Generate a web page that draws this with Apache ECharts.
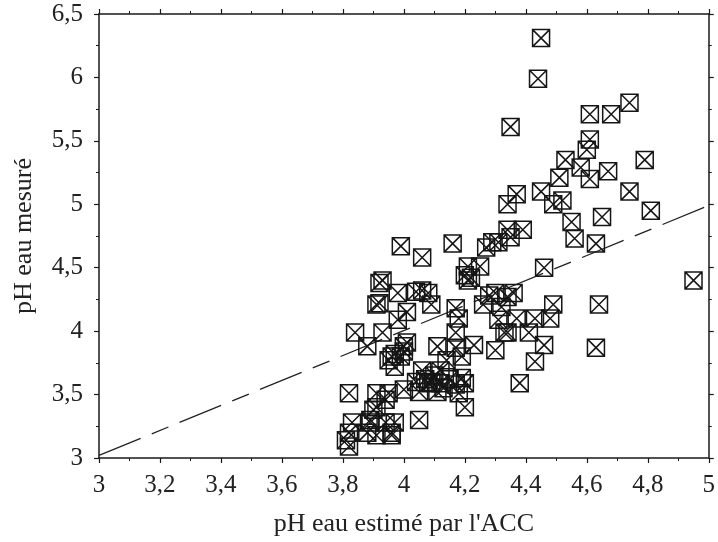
<!DOCTYPE html>
<html>
<head>
<meta charset="utf-8">
<script src="https://cdn.jsdelivr.net/npm/echarts@6/dist/echarts.min.js"></script>
<style>
  html, body { margin: 0; padding: 0; background: #fff; }
  #chart { width: 718px; height: 542px; }
</style>
</head>
<body>
<div id="chart"></div>
<script>
// pH estimé (ACC) / pH mesuré
let phEstime = [
  4.45, 4.44, 4.35, 4.61, 4.68, 4.74, 4.61, 4.60, 4.53, 4.58, 4.67, 4.79, 4.51, 4.61, 4.37, 4.45, 4.34,
  4.49, 4.52, 4.74, 4.55, 4.65, 4.81, 4.34, 4.39, 4.56, 4.63, 4.35, 4.31, 4.29, 4.27, 4.46, 4.95,
  3.99, 4.06, 4.16, 4.21, 4.25, 4.20, 4.22, 4.21,
  3.93, 3.92, 3.98, 4.04, 4.08, 4.06, 3.91, 3.92, 4.09, 4.01, 3.98,
  4.28, 4.30, 4.34, 4.36, 4.26, 4.17, 4.18, 4.17, 4.32, 4.31, 4.37, 4.43, 4.48, 4.49, 4.64, 4.33, 4.34, 4.41,
  4.23, 4.30, 4.46, 4.63, 4.43, 4.38, 4.17,
  3.84, 3.93, 3.88, 4.00, 4.01, 4.11,
  3.96, 3.99, 3.97, 3.95, 4.00, 4.14, 4.19, 3.97, 4.06, 4.12, 4.08, 4.12, 4.20, 4.07, 4.09, 4.10, 4.15,
  4.17, 4.19, 4.13, 4.04,
  4.05, 4.11, 4.18, 4.20, 3.82, 3.91, 3.95, 4.00, 3.94, 3.90, 3.91, 3.89, 3.94, 3.97, 4.05, 3.83, 3.89,
  3.82, 3.88, 3.91, 3.96, 3.96, 3.82, 3.81
]
let phMesure = [
  6.31, 5.99, 5.61, 5.71, 5.71, 5.80, 5.51, 5.43, 5.35, 5.29, 5.26, 5.35, 5.21, 5.20, 5.08, 5.10, 5.00,
  5.00, 5.03, 5.10, 4.86, 4.90, 4.95, 4.80, 4.80, 4.73, 4.69, 4.74, 4.70, 4.70, 4.66, 4.50, 4.40,
  4.67, 4.58, 4.69, 4.51, 4.51, 4.44, 4.42, 4.40,
  4.40, 4.38, 4.30, 4.31, 4.30, 4.32, 4.21, 4.22, 4.21, 4.15, 4.09,
  4.28, 4.30, 4.27, 4.30, 4.21, 4.18, 4.10, 3.99, 4.19, 4.09, 4.10, 4.10, 4.10, 4.21, 4.21, 3.99, 3.99, 3.99,
  3.89, 3.85, 3.89, 3.87, 3.76, 3.59, 3.87,
  3.99, 3.99, 3.88, 3.88, 3.91, 3.88,
  3.80, 3.80, 3.82, 3.77, 3.84, 3.77, 3.80, 3.72, 3.69, 3.69, 3.59, 3.59, 3.59, 3.62, 3.60, 3.65, 3.62,
  3.58, 3.63, 3.55, 3.60,
  3.52, 3.52, 3.51, 3.40, 3.51, 3.51, 3.51, 3.54, 3.46, 3.38, 3.40, 3.30, 3.28, 3.28, 3.30, 3.28, 3.28,
  3.20, 3.20, 3.18, 3.20, 3.18, 3.09, 3.14
]
// droite de référence (tiretée)
let refLineX = [3, 5]
let refLineY = [3.02, 4.99]

let points = phEstime.map((x, i) => [x, phMesure[i]])
let refLine = refLineX.map((x, i) => [x, refLineY[i]])

let commaFmt = v => String(+v.toFixed(1)).replace('.', ',')
let serif = 'Liberation Serif'

let axisBase = {
  type: 'value',
  axisLine: { show: true, onZero: false, lineStyle: { color: '#1a1a1a', width: 1.5 } },
  axisTick: { show: true, inside: false, length: 5, lineStyle: { color: '#1a1a1a', width: 1.2 } },
  minorTick: { show: true, splitNumber: 2, length: 3, lineStyle: { color: '#1a1a1a', width: 1 } },
  splitLine: { show: false },
  nameTextStyle: { fontFamily: serif, fontSize: 26, color: '#222' }
}

let echart = echarts.init(document.getElementById('chart'))
echart.setOption({
  animation: false,
  backgroundColor: '#fff',
  grid: { left: 99, right: 5, top: 14, bottom: 84, containLabel: false },
  xAxis: [
    Object.assign({}, axisBase, {
      min: 3, max: 5, interval: 0.2, position: 'bottom',
      name: "pH eau estimé par l'ACC", nameLocation: 'middle', nameGap: 53,
      axisLabel: { formatter: commaFmt, fontFamily: serif, fontSize: 25, color: '#222', margin: 15 }
    }),
    Object.assign({}, axisBase, {
      min: 3, max: 5, interval: 0.2, position: 'top', axisLabel: { show: false }
    })
  ],
  yAxis: [
    Object.assign({}, axisBase, {
      min: 3, max: 6.5, interval: 0.5, position: 'left',
      name: 'pH eau mesuré', nameLocation: 'middle', nameGap: 62,
      axisLabel: { formatter: commaFmt, fontFamily: serif, fontSize: 25, color: '#222', margin: 16 }
    }),
    Object.assign({}, axisBase, {
      min: 3, max: 6.5, interval: 0.5, position: 'right', axisLabel: { show: false }
    })
  ],
  series: [
    {
      type: 'line',
      data: refLine,
      symbol: 'none',
      silent: true,
      lineStyle: { color: '#222', width: 1.3, type: [45, 12, 18, 12] },
      z: 1
    },
    {
      type: 'scatter',
      data: points,
      symbol: 'path://M0 0H10V10H0ZM0 0L10 10M10 0L0 10',
      symbolSize: 17,
      itemStyle: { color: 'rgba(0,0,0,0)', borderColor: '#151515', borderWidth: 1.5, opacity: 1 },
      z: 2
    }
  ]
})
</script>
</body>
</html>
